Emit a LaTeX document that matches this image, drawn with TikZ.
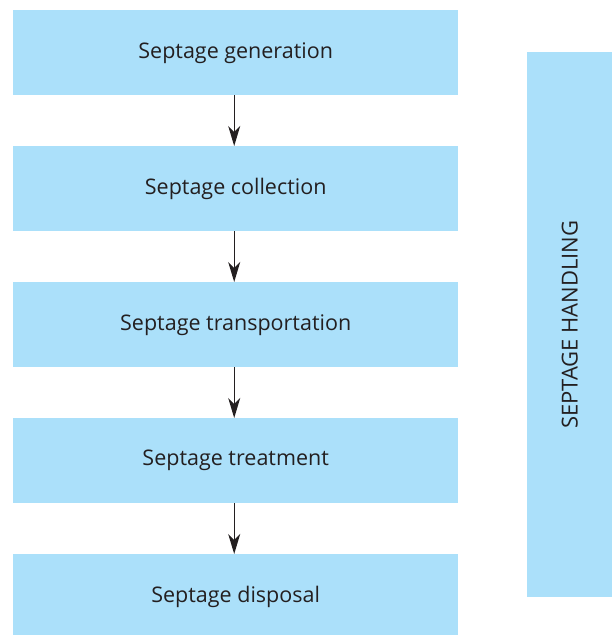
\documentclass[tikz,border=0pt]{standalone}
\usepackage{fontspec}
\setmainfont{Open Sans}
\usetikzlibrary{arrows.meta}
\definecolor{boxblue}{HTML}{ABE0FA}
\definecolor{txt}{HTML}{231F20}
\begin{document}
\begin{tikzpicture}[x=1pt,y=-1pt,
  stepbox/.style={fill=boxblue,draw=none,minimum width=445pt,minimum height=85pt,inner sep=0pt,text=txt,font=\fontsize{21.5}{25}\selectfont,anchor=north west},
  flow/.style={draw=txt,line width=1.3pt,-{Stealth[length=20pt,width=12pt,inset=6pt]}}]
\useasboundingbox (0,0) rectangle (612,635);
\node[stepbox] (g) at (13,10) {Septage generation};
\node[stepbox] (c) at (13,146) {Septage collection};
\node[stepbox] (t) at (13,282) {Septage transportation};
\node[stepbox] (tr) at (13,418) {Septage treatment};
\node[stepbox] (d) at (13,554) {Septage disposal};
\node[fill=boxblue,minimum width=85pt,minimum height=545pt,inner sep=0pt,anchor=north west] (h) at (527,52) {};
\node[rotate=90,text=txt,font=\fontsize{22}{25}\selectfont] (hl) at (h.center) {SEPTAGE HANDLING};
\draw[flow] ([xshift=-1.5pt]g.south) -- ([xshift=-1.5pt]c.north);
\draw[flow] ([xshift=-1.5pt]c.south) -- ([xshift=-1.5pt]t.north);
\draw[flow] ([xshift=-1.5pt]t.south) -- ([xshift=-1.5pt]tr.north);
\draw[flow] ([xshift=-1.5pt]tr.south) -- ([xshift=-1.5pt]d.north);
\end{tikzpicture}
\end{document}
